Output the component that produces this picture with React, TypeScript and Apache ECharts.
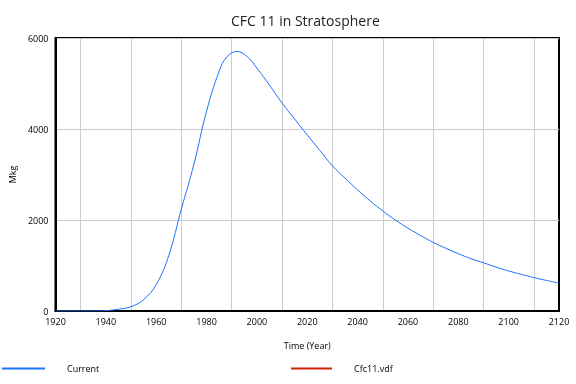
import React, { useEffect, useRef } from "react";
import * as echarts from "echarts";

const years = [1920, 1925, 1930, 1935, 1940, 1945, 1950, 1955, 1960, 1965, 1970, 1975, 1980, 1985, 1988, 1992, 1996, 2000, 2005, 2010, 2015, 2020, 2025, 2030, 2035, 2040, 2045, 2050, 2055, 2060, 2065, 2070, 2075, 2080, 2085, 2090, 2095, 2100, 2105, 2110, 2115, 2120];
const currentValues = [0, 0, 0, 0, 8, 40, 95, 250, 580, 1220, 2240, 3230, 4390, 5270, 5580, 5705, 5600, 5340, 4965, 4570, 4220, 3870, 3530, 3190, 2920, 2660, 2420, 2200, 2000, 1820, 1660, 1510, 1380, 1260, 1150, 1060, 965, 880, 805, 735, 672, 615];
const vdfValues: number[] = [];
const seriesNames = ["Current", "Cfc11.vdf"];
const seriesColors = ["#1a73ff", "#cc2200"];

export default function App() {
  const ref = useRef<HTMLDivElement>(null);
  useEffect(() => {
    if (!ref.current) return;
    const chart = echarts.init(ref.current, null, { renderer: "svg" });
    const font = "'Open Sans', 'Noto Sans', sans-serif";
    chart.setOption({
      animation: false,
      textStyle: { fontFamily: font },
      title: {
        text: "CFC 11 in Stratosphere",
        left: 226,
        top: 8,
        textStyle: { fontFamily: font, fontSize: 14, fontWeight: "normal", color: "#222" },
      },
      legend: [
        {
          data: [seriesNames[0]],
          left: 2,
          top: 364,
          padding: 0,
          icon: "rect",
          itemWidth: 43,
          itemHeight: 2,
          textStyle: { fontFamily: font, fontSize: 9, color: "#000", padding: [0, 0, 0, 17] },
        },
        {
          data: [seriesNames[1]],
          left: 291,
          top: 364,
          padding: 0,
          icon: "rect",
          itemWidth: 41,
          itemHeight: 2,
          textStyle: { fontFamily: font, fontSize: 9, color: "#000", padding: [0, 0, 0, 17] },
        },
      ],
      grid: {
        left: 48,
        right: 17,
        top: 38,
        bottom: 73,
        show: true,
        borderColor: "#000",
        borderWidth: 2,
        backgroundColor: "transparent",
      },
      xAxis: {
        type: "value",
        min: 1920,
        max: 2120,
        interval: 20,
        name: "Time (Year)",
        nameLocation: "middle",
        nameGap: 30,
        nameTextStyle: { fontFamily: font, fontSize: 9, color: "#000" },
        axisLine: { show: true, lineStyle: { color: "#000", width: 2 } },
        axisTick: { show: false },
        axisLabel: { fontFamily: font, fontSize: 9, color: "#000", margin: 6, formatter: (v: number) => String(v) },
        splitLine: { show: false },
        minorTick: { show: false, splitNumber: 2 },
        minorSplitLine: { show: true, lineStyle: { color: "#cccccc", width: 1 } },
      },
      yAxis: {
        type: "value",
        min: 0,
        max: 6000,
        interval: 2000,
        name: "Mkg",
        nameLocation: "middle",
        nameGap: 35,
        nameTextStyle: { fontFamily: font, fontSize: 9, color: "#000" },
        axisLine: { show: true, lineStyle: { color: "#000", width: 2 } },
        axisTick: { show: false },
        axisLabel: { fontFamily: font, fontSize: 9, color: "#000", margin: 7, formatter: (v: number) => String(v) },
        splitLine: { show: true, lineStyle: { color: "#cccccc", width: 1 } },
      },
      series: [
        {
          name: seriesNames[0],
          type: "line",
          data: years.map((y, i) => [y, currentValues[i]]),
          smooth: 0.4,
          showSymbol: false,
          symbol: "none",
          lineStyle: { color: seriesColors[0], width: 1 },
          itemStyle: { color: seriesColors[0] },
          z: 3,
        },
        {
          name: seriesNames[1],
          type: "line",
          data: vdfValues,
          showSymbol: false,
          symbol: "none",
          lineStyle: { color: seriesColors[1], width: 1 },
          itemStyle: { color: seriesColors[1] },
          z: 2,
        },
      ],
    });
    return () => chart.dispose();
  }, []);
  return <div ref={ref} style={{ width: 576, height: 384, position: "fixed", left: 0, top: 0 }} />;
}
